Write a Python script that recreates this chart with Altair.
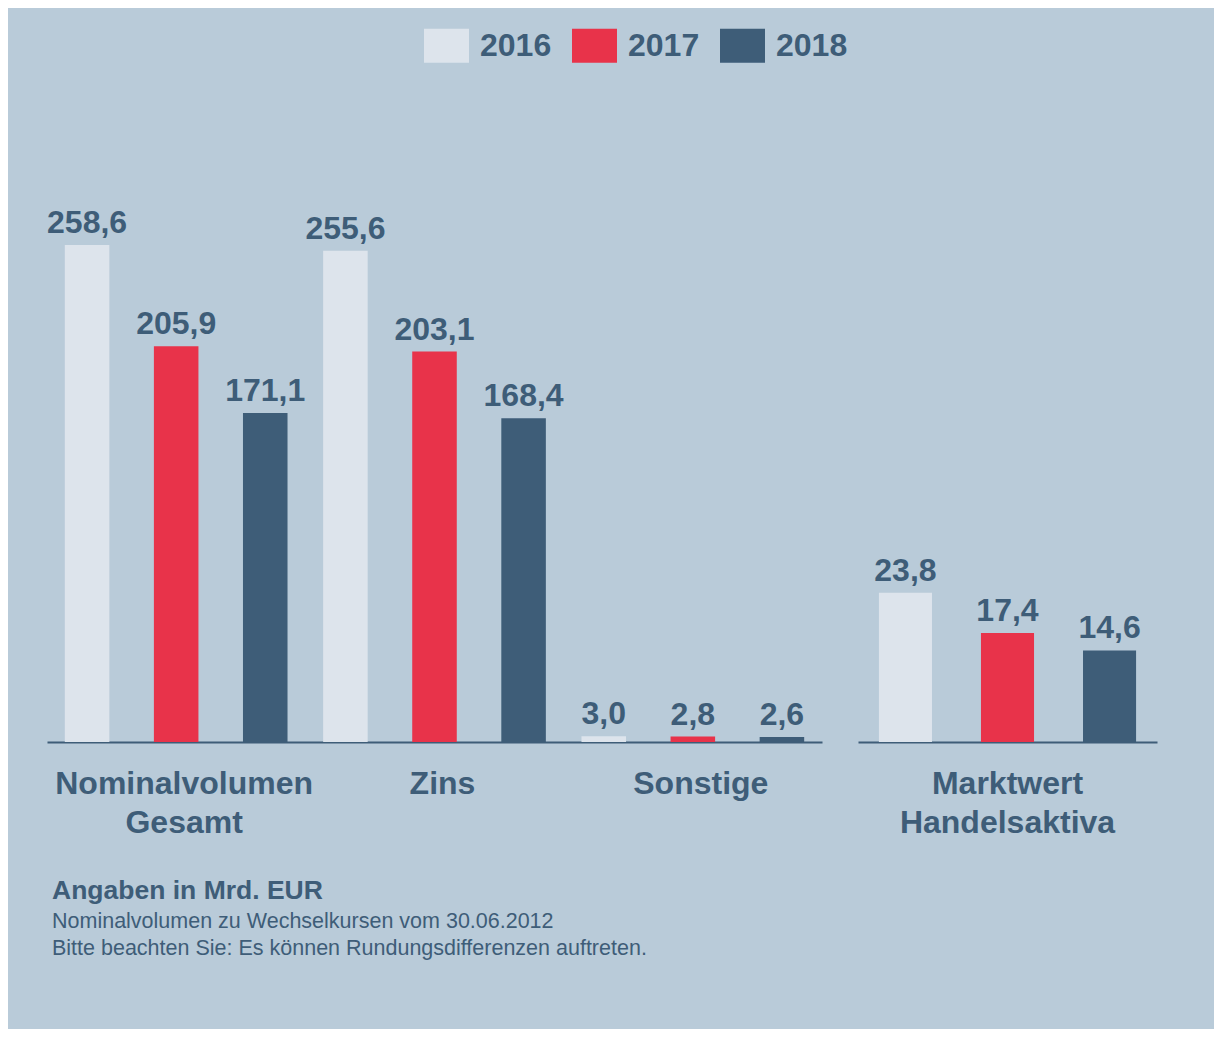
import altair as alt
import pandas as pd

years = ["2016", "2017", "2018"]
colors = ["#dde4ec", "#e8334a", "#3e5d78"]

left_groups = ["Nominalvolumen|Gesamt", "Zins", "Sonstige"]
left_2016 = [258.6, 255.6, 3.0]
left_2017 = [205.9, 203.1, 2.8]
left_2018 = [171.1, 168.4, 2.6]

right_groups = ["Marktwert|Handelsaktiva"]
right_2016 = [23.8]
right_2017 = [17.4]
right_2018 = [14.6]

footnote_title = "Angaben in Mrd. EUR"
footnote_lines = [
    "Nominalvolumen zu Wechselkursen vom 30.06.2012",
    "Bitte beachten Sie: Es können Rundungsdifferenzen auftreten.",
]

TEXT = "#3e5d78"
BG = "#b9cbd9"
FONT = "Liberation Sans"


def make_df(groups, s16, s17, s18):
    rows = []
    for g, a, b, c in zip(groups, s16, s17, s18):
        for y, v in zip(years, (a, b, c)):
            rows.append({"group": g, "year": y, "value": v,
                         "label": f"{v:.1f}".replace(".", ",")})
    return pd.DataFrame(rows)


df_left = make_df(left_groups, left_2016, left_2017, left_2018)
df_right = make_df(right_groups, right_2016, right_2017, right_2018)

legend = alt.Legend(
    title=None, orient="none", direction="horizontal",
    legendX=377, legendY=-77,
    symbolType="M-1,-0.756H1V0.756H-1Z", symbolSize=2025,
    symbolStrokeWidth=0, symbolOpacity=1,
    labelFont=FONT, labelFontSize=32, labelFontWeight="bold",
    labelColor=TEXT, labelOffset=11, columnPadding=20, padding=0,
)

color = alt.Color("year:N", scale=alt.Scale(domain=years, range=colors), legend=legend)


def panel(df, groups, ymax, width, p_in, p_out, label_offset):
    base = alt.Chart(df).encode(
        x=alt.X("group:N", sort=groups, title=None,
                scale=alt.Scale(paddingInner=0, paddingOuter=0),
                axis=alt.Axis(labelExpr="split(datum.label, '|')",
                              labelFont=FONT, labelFontSize=32, labelFontWeight="bold",
                              labelColor=TEXT, labelLineHeight=39, labelAngle=0,
                              labelPadding=26, labelLimit=0, labelOffset=label_offset,
                              ticks=False, tickSize=0,
                              domainColor=TEXT, domainWidth=2, grid=False)),
        xOffset=alt.XOffset("year:N", sort=years,
                            scale=alt.Scale(paddingInner=p_in, paddingOuter=p_out)),
        y=alt.Y("value:Q", scale=alt.Scale(domain=[0, ymax], nice=False, zero=True),
                axis=None),
    )
    bars = base.mark_bar().encode(color=color)
    texts = base.mark_text(baseline="alphabetic", dy=-12, font=FONT, fontSize=32,
                           fontWeight="bold", color=TEXT).encode(text="label:N")
    return alt.layer(bars, texts).properties(width=width, height=642)


left = panel(df_left, left_groups, 334.0, 775, 0.5, 0.2, 8)
right = panel(df_right, right_groups, 102.4, 299, 0.48, 0.205, 0)

chart = alt.hconcat(left, right, spacing=36).resolve_scale(
    y="independent", x="independent", xOffset="independent"
).properties(
    title=alt.TitleParams(
        text=footnote_title, subtitle=footnote_lines,
        orient="bottom", anchor="start", dx=5, offset=40,
        font=FONT, fontSize=26.5, fontWeight="bold", color=TEXT,
        subtitleFont=FONT, subtitleFontSize=21.5, subtitleFontWeight="normal",
        subtitleColor=TEXT, subtitleLineHeight=27, subtitlePadding=6,
    ),
    padding={"left": 39, "top": 15, "right": 57, "bottom": 70},
    background=BG,
).configure_view(stroke=None)

chart.save("out.html", embed_options={"renderer": "svg", "actions": False})
